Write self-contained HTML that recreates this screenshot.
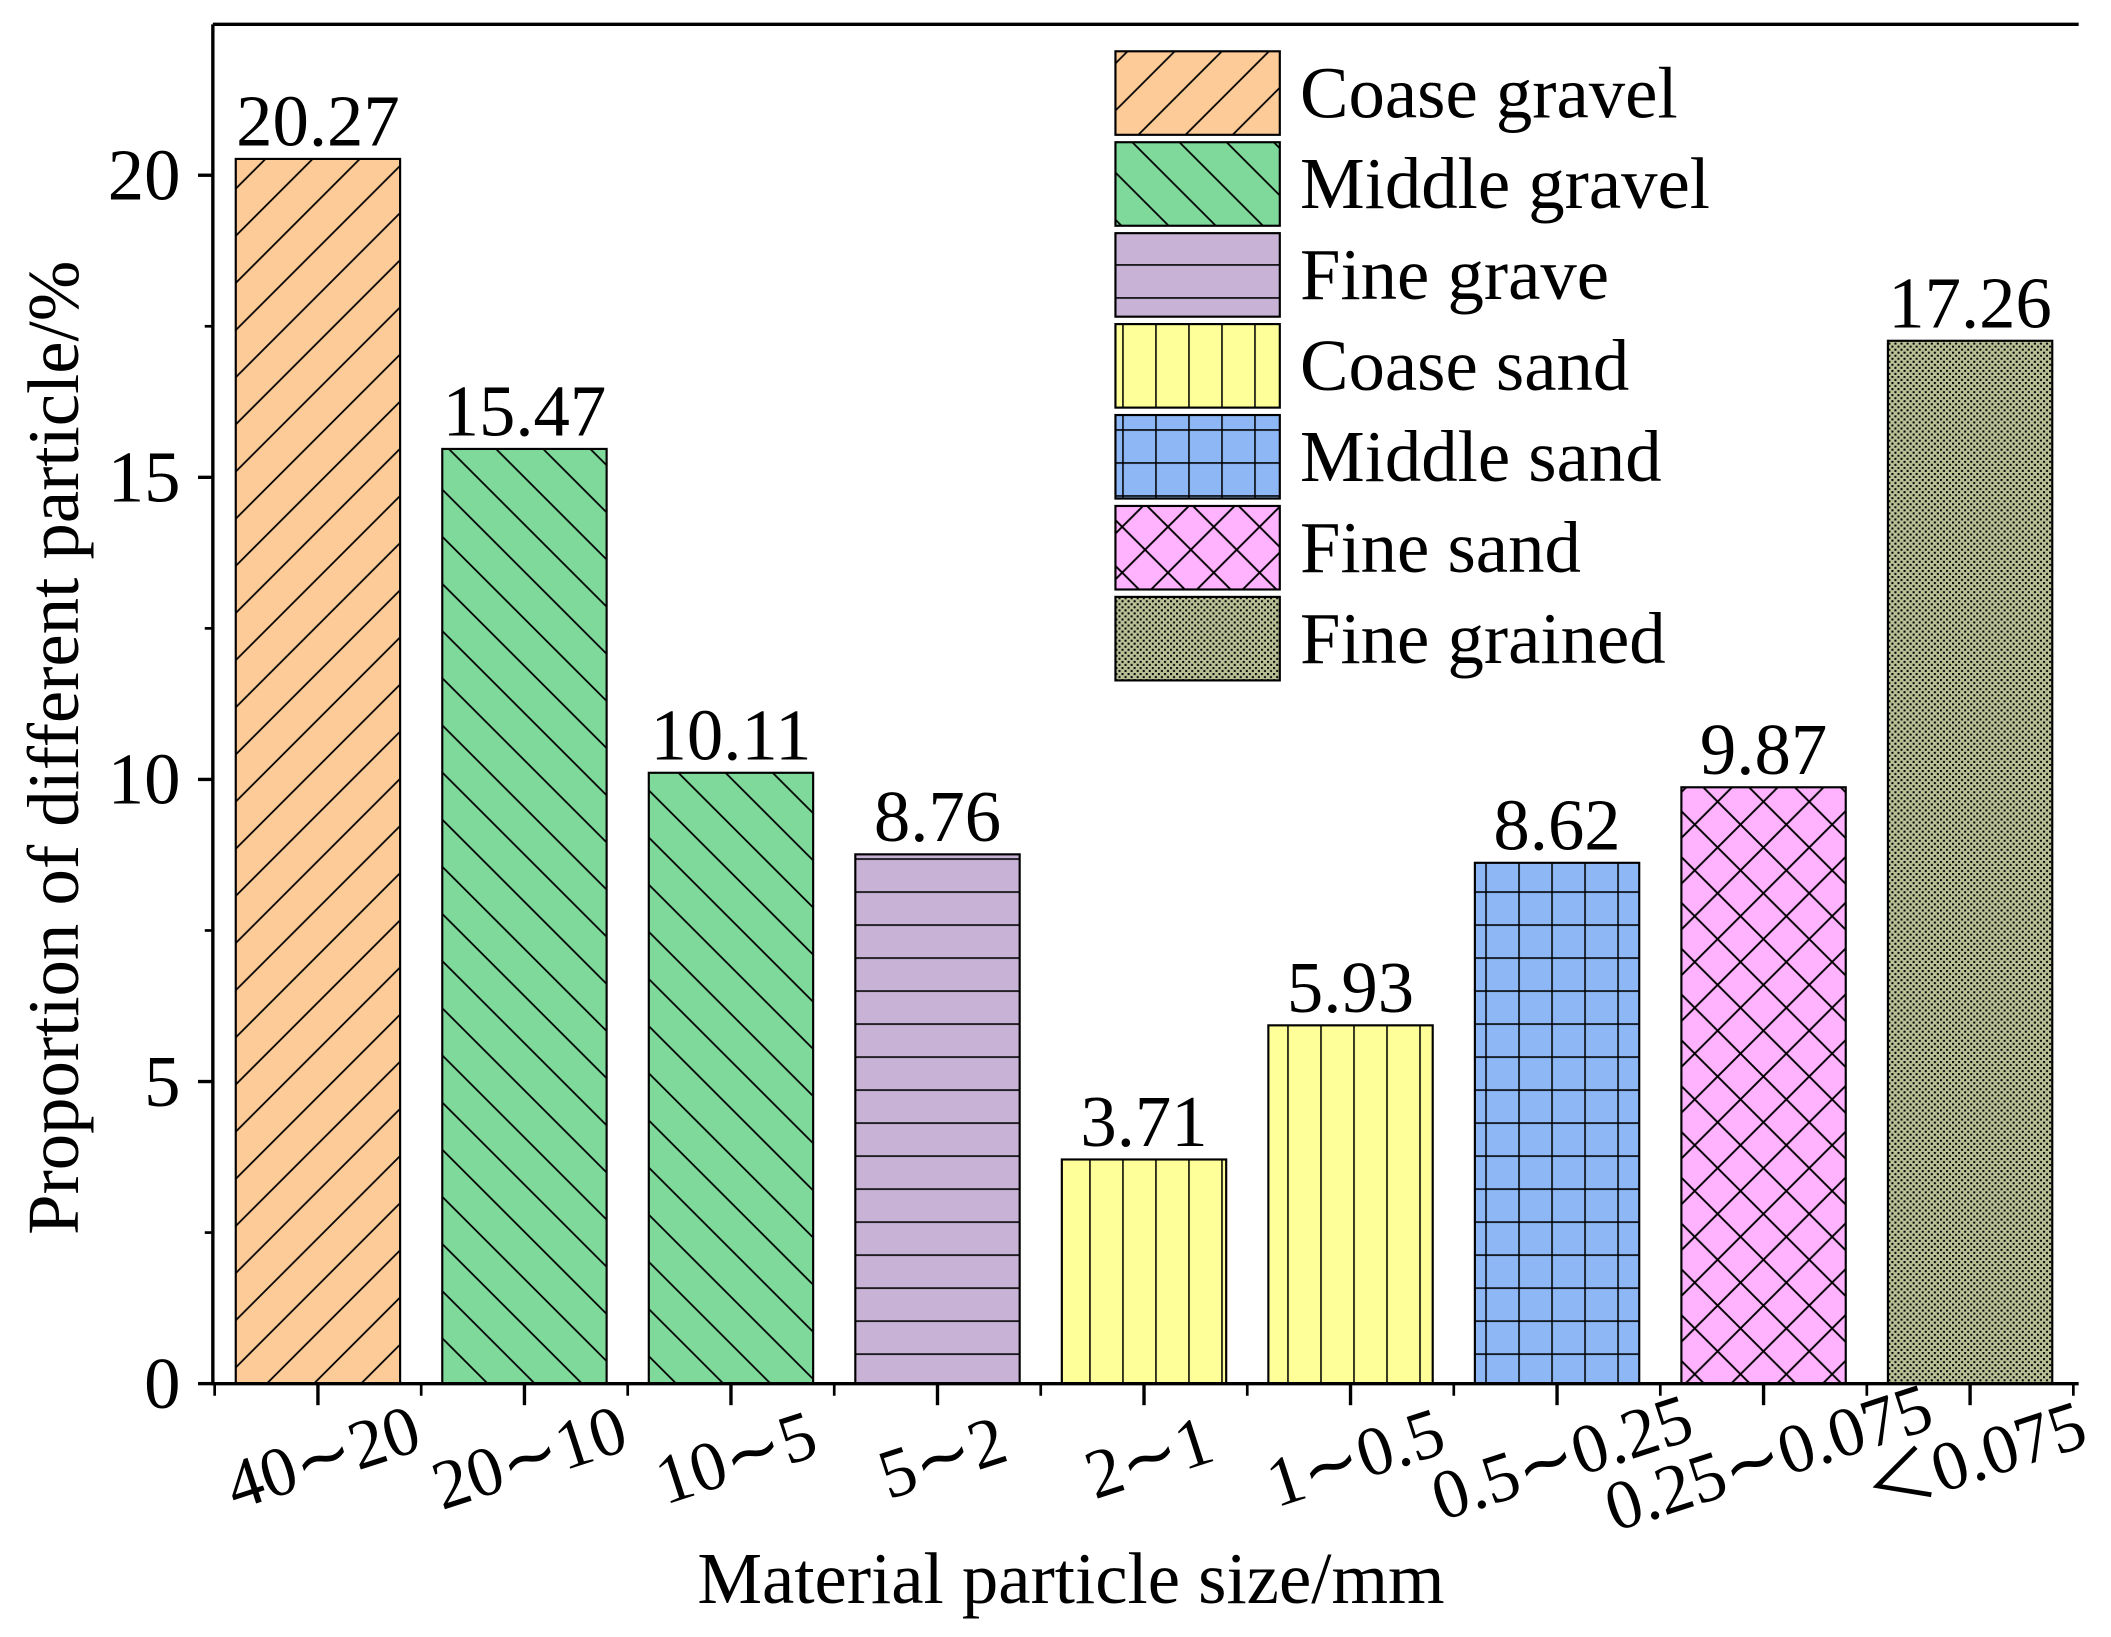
<!DOCTYPE html>
<html><head><meta charset="utf-8"><style>
html,body{margin:0;padding:0;background:#fff}
svg{display:block}
text{font-family:"Liberation Serif",serif;fill:#000}
</style></head><body>
<svg id="chart" width="2111" height="1637" viewBox="0 0 1567 1215" xmlns="http://www.w3.org/2000/svg">
<defs>
<pattern id="p0" patternUnits="userSpaceOnUse" width="35" height="35"><rect width="35" height="35" fill="#FDCB98"/><path d="M0 35L35 0M-10 10L10 -10M25 45L45 25" stroke="#000" stroke-width="1.3"/></pattern>
<pattern id="p1" patternUnits="userSpaceOnUse" width="35" height="35"><rect width="35" height="35" fill="#7FD99B"/><path d="M0 0L35 35M-10 25L10 45M25 -10L45 10" stroke="#000" stroke-width="1.3"/></pattern>
<pattern id="p2" patternUnits="userSpaceOnUse" width="24.5" height="24.5"><rect width="24.5" height="24.5" fill="#C8B3D6"/><path d="M0 0.5H24.5" stroke="#000" stroke-width="1.3"/></pattern>
<pattern id="p3" patternUnits="userSpaceOnUse" width="24.5" height="24.5"><rect width="24.5" height="24.5" fill="#FFFF99"/><path d="M0.5 0V24.5" stroke="#000" stroke-width="1.3"/></pattern>
<pattern id="p4" patternUnits="userSpaceOnUse" width="24.5" height="24.5"><rect width="24.5" height="24.5" fill="#8DB8F5"/><path d="M0.5 0V24.5M0 0.5H24.5" stroke="#000" stroke-width="1.3"/></pattern>
<pattern id="p5" patternUnits="userSpaceOnUse" width="34" height="34"><rect width="34" height="34" fill="#FFB3FF"/><path d="M0 0L34 34M34 0L0 34" stroke="#000" stroke-width="1.4"/></pattern>
<pattern id="p6" patternUnits="userSpaceOnUse" width="4.5" height="4.5"><rect width="4.5" height="4.5" fill="#B9C096"/><rect x="0" y="0" width="1.5" height="1.5" fill="#000"/><rect x="2.25" y="2.25" width="1.5" height="1.5" fill="#000"/></pattern>
</defs>
<g id="plot"></g>
</svg>
<script>
const categories=["40∼20","20∼10","10∼5","5∼2","2∼1","1∼0.5","0.5∼0.25","0.25∼0.075","＜0.075"];
const values=[20.27,15.47,10.11,8.76,3.71,5.93,8.62,9.87,17.26];
const valueLabels=["20.27","15.47","10.11","8.76","3.71","5.93","8.62","9.87","17.26"];
const groupOfBar=[0,1,1,2,3,3,4,5,6];
const legendNames=["Coase gravel","Middle gravel","Fine grave","Coase sand","Middle sand","Fine sand","Fine grained"];
const yTicks=[0,5,10,15,20];
const yMinorTicks=[2.5,7.5,12.5,17.5];

const NS="http://www.w3.org/2000/svg";
const g=document.getElementById('plot');
const X0=158,X1=1543,Y0=1027,YT=18;
const step=153.3,bw=122;
const y=v=>Y0-v*44.85;
const xc=i=>236+i*step;
function mk(tag,attrs,txt){const e=document.createElementNS(NS,tag);for(const k in attrs)e.setAttribute(k,attrs[k]);if(txt!==undefined)e.textContent=txt;g.appendChild(e);return e;}

values.forEach((v,i)=>{
  const r=mk('rect',{x:xc(i)-bw/2,y:y(v),width:bw,height:Y0-y(v),fill:'url(#p'+groupOfBar[i]+')',stroke:'#000','stroke-width':1.6});
  
  
  const t=mk('text',{x:xc(i),y:y(v)-10,'text-anchor':'middle','font-size':54},valueLabels[i]);
  
  
  const tk=mk('line',{x1:xc(i),x2:xc(i),y1:Y0,y2:Y0+16,stroke:'#000','stroke-width':2.5});
  
  
  const lx=xc(i)+4,ly=Y0+72;
  const tl=mk('text',{x:lx,y:ly,'text-anchor':'middle','font-size':52,transform:'rotate(-18 '+lx+' '+(ly-16)+')'},categories[i]);
  
  
});
for(let i=0;i<=categories.length;i++){
  const xm=xc(i)-step/2;
  const m=mk('line',{x1:xm,x2:xm,y1:Y0,y2:Y0+9,stroke:'#000','stroke-width':2});
  
  
}
yTicks.forEach(v=>{
  const l=mk('line',{x1:X0-11,x2:X0,y1:y(v),y2:y(v),stroke:'#000','stroke-width':2.5});
  
  
  const t=mk('text',{x:X0-24,y:y(v)+18,'text-anchor':'end','font-size':54},String(v));
  
  
});
yMinorTicks.forEach(v=>{
  const l=mk('line',{x1:X0-6,x2:X0,y1:y(v),y2:y(v),stroke:'#000','stroke-width':2});
  
  
});
const ax=mk('path',{d:`M${X0} ${YT}H${X1}M${X0} ${YT}V${Y0}H${X1}`,fill:'none',stroke:'#000','stroke-width':2.5});


legendNames.forEach((n,i)=>{
  const ty=38+i*67.5;
  const r=mk('rect',{x:828,y:ty,width:122,height:62,fill:'url(#p'+i+')',stroke:'#000','stroke-width':1.6});
  
  
  const t=mk('text',{x:965,y:ty+49,'font-size':54},n);
  
  
});
const xt=mk('text',{x:795,y:1190,'text-anchor':'middle','font-size':54},'Material particle size/mm');


const yt=mk('text',{x:0,y:0,'text-anchor':'middle','font-size':54,transform:'translate(58 555) rotate(-90)'},'Proportion of different particle/%');


</script>
</body></html>
